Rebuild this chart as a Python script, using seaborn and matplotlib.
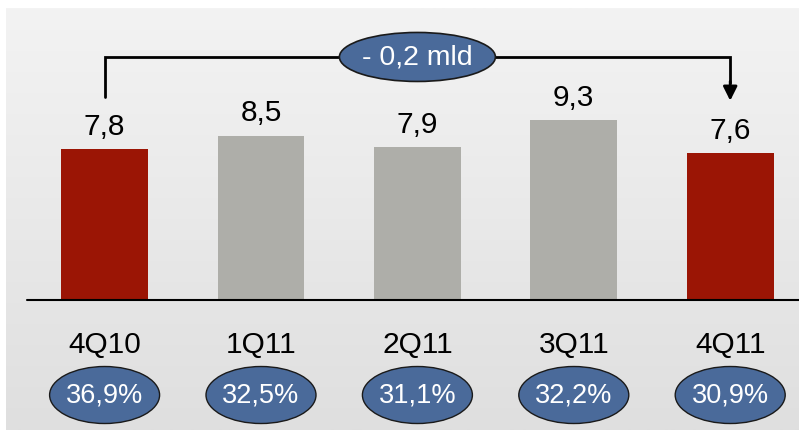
import numpy as np
import pandas as pd
import matplotlib
matplotlib.use("Agg")
import matplotlib.pyplot as plt
from matplotlib.patches import Ellipse
from matplotlib.colors import LinearSegmentedColormap
from matplotlib import font_manager
import seaborn as sns

# ---- data ----
categories = ["4Q10", "1Q11", "2Q11", "3Q11", "4Q11"]
values = [7.8, 8.5, 7.9, 9.3, 7.6]
value_labels = ["7,8", "8,5", "7,9", "9,3", "7,6"]
pct_labels = ["36,9%", "32,5%", "31,1%", "32,2%", "30,9%"]
bar_colors = ["#9B1505", "#AEAEA9", "#AEAEA9", "#AEAEA9", "#9B1505"]
delta_label = "- 0,2 mld"

sns.set_theme(style="white")
names = {f.name for f in font_manager.fontManager.ttflist}
narrow = "Liberation Sans Narrow" in names
fam = ["Liberation Sans Narrow"] if narrow else ["Liberation Sans"]
plt.rcParams["font.family"] = fam + ["DejaVu Sans"]

W, H = 799, 430
fig = plt.figure(figsize=(W / 100, H / 100), dpi=100)
ax = fig.add_axes([0, 0, 1, 1])
ax.set_facecolor("white")

# background gradient panel
grad = np.linspace(0, 1, 256).reshape(-1, 1)
cmap = LinearSegmentedColormap.from_list("bg", ["#F3F3F3", "#DFDFDF"])
ax.imshow(grad, extent=[6 / W, 1, 0, 1 - 8 / H], transform=ax.transAxes,
          aspect="auto", cmap=cmap, zorder=0)

df = pd.DataFrame({"cat": categories, "val": values})
sns.barplot(data=df, x="cat", y="val", hue="cat", palette=bar_colors,
            width=0.556, legend=False, ax=ax, zorder=2, saturation=1,
            linewidth=0, edgecolor="none")

# limits mapped to pixel geometry
px_per_x = 156.4
x0_px = 104.6
px_per_y = 19.35
y0_px = 300
ax.set_xlim(-x0_px / px_per_x, (W - x0_px) / px_per_x)
ax.set_ylim(-(H - y0_px) / px_per_y, y0_px / px_per_y)
ax.axis("off")

# baseline
ax.axhline(0, xmin=27 / W, xmax=1, color="black", lw=1.5, zorder=3)

fs = 25 if narrow else 21.5
for i, (v, lab) in enumerate(zip(values, value_labels)):
    ax.text(i, v + 0.42, lab, ha="center", va="bottom", fontsize=fs, color="black", zorder=4)

for i, c in enumerate(categories):
    ax.text(i, -2.35, c, ha="center", va="center", fontsize=fs, color="black", zorder=4)

ell_w = 110 / px_per_x
ell_h = 57 / px_per_y
for i, p in enumerate(pct_labels):
    e = Ellipse((i, -4.91), ell_w, ell_h, facecolor="#4A6A9A", edgecolor="#1A1A1A",
                lw=1, zorder=4)
    ax.add_patch(e)
    ax.text(i, -4.95, p, ha="center", va="center", fontsize=fs - 2, color="white", zorder=5)

# bracket
yb = 12.56
ax.plot([0, 0, 4, 4], [10.5, yb, yb, 11.2], color="black", lw=2, zorder=3,
        solid_joinstyle="miter")
ax.annotate("", xy=(4, 10.3), xytext=(4, 11.3),
            arrowprops=dict(arrowstyle="-|>,head_length=0.7,head_width=0.35",
                            color="black", lw=2, shrinkA=0, shrinkB=0), zorder=3)
top_e = Ellipse((2.0, yb), 156 / px_per_x, 49 / px_per_y, facecolor="#4A6A9A",
                edgecolor="#1A1A1A", lw=1.2, zorder=5)
ax.add_patch(top_e)
ax.text(2.0, yb - 0.05, delta_label, ha="center", va="center", fontsize=fs - 1,
        color="white", zorder=6)

fig.savefig("out.png", dpi=100)
